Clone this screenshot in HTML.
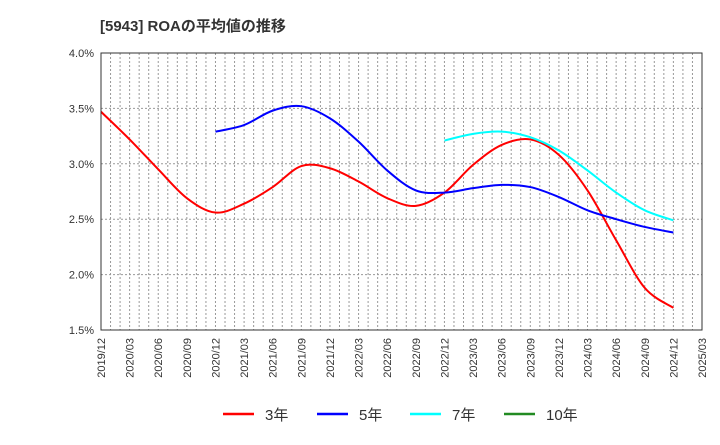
<!DOCTYPE html>
<html><head><meta charset="utf-8"><style>
body{margin:0;background:#fff;font-family:"Liberation Sans","Noto Sans CJK JP",sans-serif}
</style></head><body>
<svg id="chart" width="720" height="440" xmlns="http://www.w3.org/2000/svg" font-family="Liberation Sans, Noto Sans CJK JP, sans-serif">
<text x="100" y="31" font-size="15" font-weight="bold" fill="#333">[5943]  ROAの平均値の推移</text>
<g id="grid"></g><g id="series"></g><g id="axes"></g><g id="legend"></g>
</svg>
<script>
const xLabels=["2019/12","2020/03","2020/06","2020/09","2020/12","2021/03","2021/06","2021/09","2021/12","2022/03","2022/06","2022/09","2022/12","2023/03","2023/06","2023/09","2023/12","2024/03","2024/06","2024/09","2024/12","2025/03"];
const yTicks=[1.5,2.0,2.5,3.0,3.5,4.0];
const s3=[3.47,3.22,2.95,2.69,2.56,2.64,2.79,2.98,2.96,2.84,2.69,2.62,2.74,2.99,3.17,3.22,3.08,2.76,2.31,1.88,1.70];
const s5=[3.29,3.35,3.48,3.52,3.41,3.20,2.94,2.76,2.74,2.78,2.81,2.79,2.70,2.58,2.50,2.43,2.38];
const s7=[3.21,3.27,3.29,3.24,3.12,2.94,2.74,2.58,2.49];
const s10=[];
const L=101,R=702,T=53,B=330,ns="http://www.w3.org/2000/svg";
const xq=i=>L+(R-L)*i/21, yv=v=>B-(v-1.5)/2.5*(B-T);
function mk(tag,attrs,parent){const e=document.createElementNS(ns,tag);for(const k in attrs)e.setAttribute(k,attrs[k]);document.getElementById(parent).appendChild(e);return e;}
for(let m=1;m<63;m++){const x=L+(R-L)*m/63;const e=mk('line',{x1:x,x2:x,y1:T,y2:B,stroke:'#999','stroke-dasharray':'2,2','stroke-width':1},'grid');}
yTicks.forEach(v=>{const y=yv(v);const g=mk('line',{x1:L,x2:R,y1:y,y2:y,stroke:'#999','stroke-dasharray':'2,2'},'grid');
const t=mk('text',{x:L-7,y:y+4,'text-anchor':'end','font-size':11,fill:'#333'},'axes');t.textContent=v.toFixed(1)+'%';});
const fr=mk('rect',{x:L,y:T,width:R-L,height:B-T,fill:'none',stroke:'#333'},'axes');
xLabels.forEach((lb,i)=>{const x=xq(i)+4;const t=mk('text',{transform:`translate(${x},${B+8}) rotate(-90)`,'text-anchor':'end','font-size':11,fill:'#333'},'axes');t.textContent=lb;});
function path(vals,off){const p=vals.map((v,i)=>[xq(i+off),yv(v)]);if(p.length<2)return'';let d=`M${p[0][0]},${p[0][1]}`;for(let i=0;i<p.length-1;i++){const p0=p[i-1]||p[i],p1=p[i],p2=p[i+1],p3=p[i+2]||p2;d+=` C${p1[0]+(p2[0]-p0[0])/6},${p1[1]+(p2[1]-p0[1])/6} ${p2[0]-(p3[0]-p1[0])/6},${p2[1]-(p3[1]-p1[1])/6} ${p2[0]},${p2[1]}`;}return d;}
[[s3,0,'#ff0000','series-3yr'],[s5,4,'#0000ff','series-5yr'],[s7,12,'#00ffff','series-7yr'],[s10,21-s10.length,'#008000','series-10yr']].forEach(([v,o,c,n])=>{if(!v.length)return;const e=mk('path',{d:path(v,o),fill:'none',stroke:c,'stroke-width':2},'series');});
[['3年','#ff0000',223],['5年','#0000ff',317],['7年','#00ffff',410],['10年','#228b22',504]].forEach(([t,c,x])=>{const l=mk('line',{x1:x,x2:x+31,y1:414,y2:414,stroke:c,'stroke-width':2.5},'legend');const tx=mk('text',{x:x+42,y:420,'font-size':15,fill:'#333'},'legend');tx.textContent=t;});
</script>
</body></html>
